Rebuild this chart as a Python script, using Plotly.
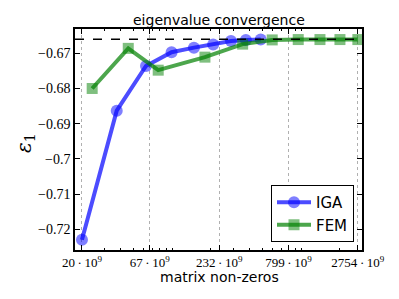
import plotly.graph_objects as go

# data (x in units of 1e9 non-zeros)
iga_x = [20, 37.2, 62.7, 99, 147.6, 208, 286, 373, 486]
iga_y = [-0.7230, -0.6863, -0.6736, -0.6697, -0.6684, -0.6675, -0.6665, -0.6662, -0.6661]
fem_x = [24, 45.7, 78, 179.6, 352, 597, 950, 1400, 2000, 2754]
fem_y = [-0.6800, -0.6686, -0.6748, -0.6711, -0.6674, -0.6662, -0.6661, -0.6661, -0.6661, -0.6661]
ref_value = -0.6660
xtick_vals = [20, 67, 232, 799, 2754]
xtick_text = [f"{v}\u2009·\u200910<sup>9</sup>" for v in xtick_vals]
ytick_vals = [-0.72, -0.71, -0.70, -0.69, -0.68, -0.67]
ytick_text = ["\u22120.72", "\u22120.71", "\u22120.7", "\u22120.69", "\u22120.68", "\u22120.67"]

W, H = 399, 299
L, R, T, B = 75, 37, 29, 49

fig = go.Figure()
fig.add_trace(go.Scatter(
    x=[1e9 * v for v in iga_x], y=iga_y, name="IGA", mode="lines+markers",
    line=dict(color="rgba(0,0,255,0.7)", width=4),
    marker=dict(symbol="circle", size=12, color="rgba(0,0,255,0.5)", line=dict(width=0)),
))
fig.add_trace(go.Scatter(
    x=[1e9 * v for v in fem_x], y=fem_y, name="FEM", mode="lines+markers",
    line=dict(color="rgba(0,128,0,0.7)", width=4),
    marker=dict(symbol="square", size=11, color="rgba(0,128,0,0.5)", line=dict(width=0)),
))
fig.add_hline(y=ref_value, line=dict(color="black", width=1.5, dash="dash"))

serif = "Liberation Serif"
pw = W - L - R
ph = H - T - B
fig.update_layout(
    width=W, height=H,
    margin=dict(l=L, r=R, t=T, b=B, autoexpand=False),
    paper_bgcolor="white", plot_bgcolor="white",
    xaxis=dict(
        type="log", range=[10.247, 12.472], automargin=False,
        tickvals=[1e9 * v for v in xtick_vals], ticktext=xtick_text,
        tickfont=dict(family=serif, size=13, color="black"),
        ticks="inside", ticklen=5, tickcolor="black", mirror="ticks",
        minor=dict(ticks="inside", ticklen=2.5, tickcolor="black", dtick="D1", showgrid=False),
        showline=True, linecolor="black", linewidth=1.5,
        showgrid=True, gridcolor="#b0b0b0", griddash="dot", gridwidth=1,
        zeroline=False,
    ),
    yaxis=dict(
        range=[-0.7259, -0.6631], automargin=False,
        tickvals=ytick_vals, ticktext=ytick_text,
        tickfont=dict(family=serif, size=14, color="black"),
        ticks="inside", ticklen=5, tickcolor="black", mirror="ticks",
        showline=True, linecolor="black", linewidth=1.5,
        showgrid=False, zeroline=False,
    ),
    legend=dict(x=(354 - L) / pw, y=(H - B - 242) / ph, xanchor="right", yanchor="bottom",
                bordercolor="black", borderwidth=1, bgcolor="white",
                font=dict(family="DejaVu Sans", size=15, color="black"),
                itemwidth=34, tracegroupgap=0),
    showlegend=True,
    annotations=[
        dict(text="eigenvalue convergence", xref="paper", yref="paper",
             x=0.5, y=(H - B - 20) / ph, xanchor="center", yanchor="middle",
             showarrow=False, font=dict(family="DejaVu Sans", size=14, color="black")),
        dict(text="matrix non-zeros", xref="paper", yref="paper",
             x=(219 - L) / pw, y=(H - B - 277) / ph, xanchor="center", yanchor="middle",
             showarrow=False, font=dict(family="DejaVu Sans", size=14, color="black")),
        dict(text="<i>ε</i><sub>1</sub>", xref="paper", yref="paper",
             x=(25 - L) / pw, y=(H - B - 143) / ph, xanchor="center", yanchor="middle",
             textangle=-90, showarrow=False,
             font=dict(family="DejaVu Serif", size=20, color="black")),
    ],
)
fig.write_html("out.html", config={"displayModeBar": False},
               post_script="document.body.style.margin='0px';")
